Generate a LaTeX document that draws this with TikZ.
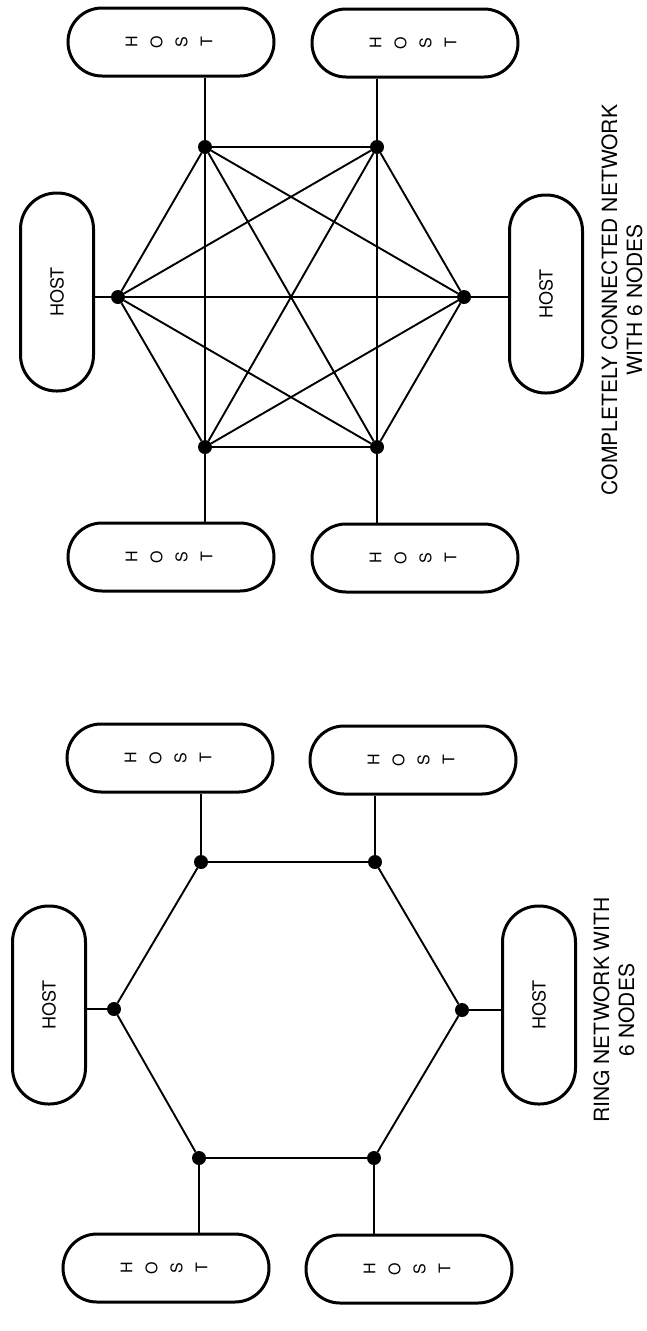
\documentclass[tikz,border=0pt]{standalone}
\usepackage{fontspec}
\setmainfont{TeX Gyre Heros}
\usepackage{graphicx}

% letters of HOST stacked, for the boxes lying on their side
\newcommand{\hoststack}{\rotatebox{90}{\begin{tabular}{@{}c@{}}H\\[6pt]O\\[6pt]S\\[6pt]T\end{tabular}}}

\begin{document}
\begin{tikzpicture}[x=1pt,y=-1pt,
    dot/.style={circle,fill=black,inner sep=0pt,minimum size=14pt},
    link/.style={line width=1.9pt},
    flathost/.style={draw,line width=3pt,rounded corners=34pt,inner sep=0pt,
      minimum width=206pt,minimum height=68pt,font=\fontsize{16}{19}\selectfont},
    uphost/.style={draw,line width=3pt,rounded corners=36pt,inner sep=0pt,
      minimum width=73pt,minimum height=198pt,font=\fontsize{18}{21}\selectfont},
    caption/.style={rotate=90,align=center,font=\fontsize{21}{25}\selectfont}]
      \useasboundingbox (0,0) rectangle (646,1331);

      % completely connected network
      \node[dot] (c1) at (464,297) {};
      \node[dot] (c2) at (377,147) {};
      \node[dot] (c3) at (205,147) {};
      \node[dot] (c4) at (118,297) {};
      \node[dot] (c5) at (205,447) {};
      \node[dot] (c6) at (377,447) {};
      \foreach \i in {1,...,5} {
        \pgfmathtruncatemacro\k{\i+1}
        \foreach \j in {\k,...,6}
          \draw[link] (c\i) -- (c\j);
      }

      \node[flathost] (ha) at (171,42) {\hoststack};
      \node[flathost] (hb) at (415,43) {\hoststack};
      \node[uphost] (hc) at (57,292) {\rotatebox{90}{HOST}};
      \node[uphost] (hd) at (546,294) {\rotatebox{90}{HOST}};
      \node[flathost] (he) at (171,557) {\hoststack};
      \node[flathost] (hf) at (415,558) {\hoststack};

      \draw[link] (c3) -- (c3 |- ha.south);
      \draw[link] (c2) -- (c2 |- hb.south);
      \draw[link] (c4) -- (c4 -| hc.east);
      \draw[link] (c1) -- (c1 -| hd.west);
      \draw[link] (c5) -- (c5 |- he.north);
      \draw[link] (c6) -- (c6 |- hf.north);

      \node[caption] (lc) at (622,300) {COMPLETELY CONNECTED NETWORK\\WITH 6 NODES};

      % ring network
      \node[dot] (r1) at (462,1010) {};
      \node[dot] (r2) at (375,862) {};
      \node[dot] (r3) at (201,862) {};
      \node[dot] (r4) at (114,1009) {};
      \node[dot] (r5) at (199,1158) {};
      \node[dot] (r6) at (374,1158) {};
      \draw[link] (r1) -- (r2) -- (r3) -- (r4) -- (r5) -- (r6) -- (r1);

      \node[flathost] (ga) at (170,758) {\hoststack};
      \node[flathost] (gb) at (413,760) {\hoststack};
      \node[uphost] (gc) at (49,1005) {\rotatebox{90}{HOST}};
      \node[uphost] (gd) at (539,1005) {\rotatebox{90}{HOST}};
      \node[flathost] (ge) at (166,1268) {\hoststack};
      \node[flathost] (gf) at (409,1269) {\hoststack};

      \draw[link] (r3) -- (r3 |- ga.south);
      \draw[link] (r2) -- (r2 |- gb.south);
      \draw[link] (r4) -- (r4 -| gc.east);
      \draw[link] (r1) -- (r1 -| gd.west);
      \draw[link] (r5) -- (r5 |- ge.north);
      \draw[link] (r6) -- (r6 |- gf.north);

      \node[caption] (lr) at (614,1010) {RING NETWORK WITH\\6 NODES};
    \end{tikzpicture}
\end{document}
